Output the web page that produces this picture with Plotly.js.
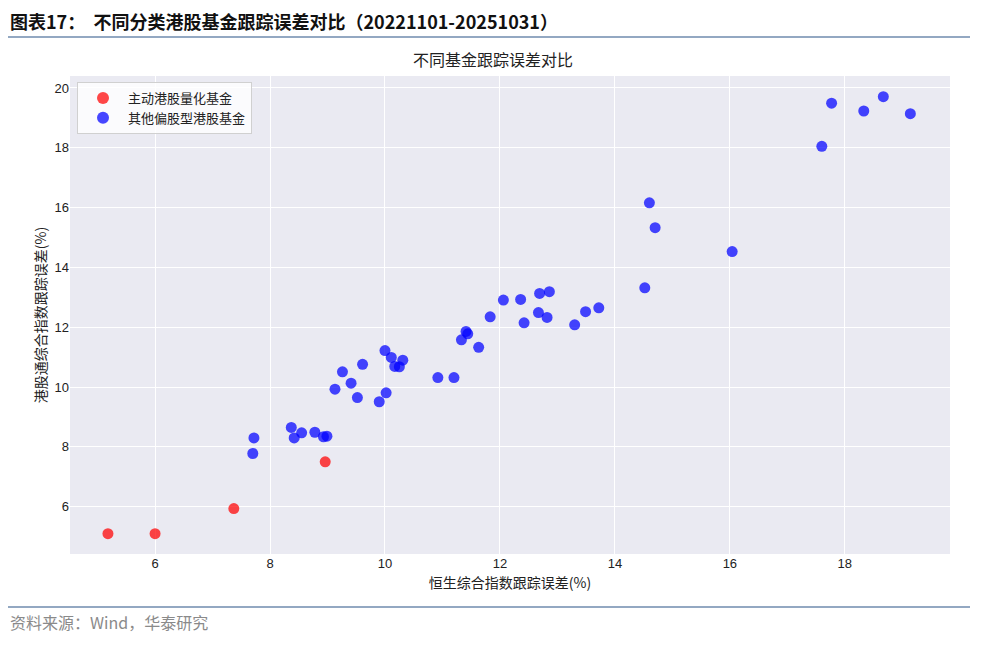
<!DOCTYPE html>
<html>
<head>
<meta charset="utf-8">
<script src="https://cdn.plot.ly/plotly-3.0.1.min.js"></script>
<style>
html,body{margin:0;padding:0;background:#fff;}
#chart{width:986px;height:653px;}
</style>
</head>
<body>
<div id="chart"></div>
<script>
// Data
const quantNames = "主动港股量化基金";
const otherNames = "其他偏股型港股基金";

const quantX = [5.18, 6.00, 7.37, 8.96];
const quantY = [5.10, 5.10, 5.94, 7.50];

const otherX = [7.72, 7.70, 8.37, 8.42, 8.55, 8.78, 8.93, 8.99,
  10.00, 10.11, 10.31, 10.17, 10.25, 9.61, 9.26, 9.41, 9.13, 9.52, 10.02, 9.90,
  10.92, 11.20, 11.33, 11.41, 11.44, 11.63, 11.83, 12.06, 12.36, 12.42, 12.69, 12.86, 12.67, 12.82, 13.30, 13.49, 13.72,
  14.60, 14.70, 14.52, 16.04, 17.60, 17.77, 18.33, 18.67, 19.14];
const otherY = [8.30, 7.78, 8.65, 8.30, 8.47, 8.49, 8.34, 8.36,
  11.22, 10.99, 10.90, 10.69, 10.68, 10.76, 10.51, 10.13, 9.93, 9.65, 9.81, 9.51,
  10.32, 10.32, 11.58, 11.86, 11.78, 11.33, 12.35, 12.91, 12.93, 12.15, 13.13, 13.19, 12.49, 12.33, 12.08, 12.52, 12.65,
  16.16, 15.33, 13.32, 14.53, 18.05, 19.49, 19.23, 19.71, 19.14];

const xTicks = [6, 8, 10, 12, 14, 16, 18];
const yTicks = [6, 8, 10, 12, 14, 16, 18, 20];

const headerText = "图表17：  不同分类港股基金跟踪误差对比（20221101-20251031）";
const chartTitle = "不同基金跟踪误差对比";
const xTitle = "恒生综合指数跟踪误差(%)";
const yTitle = "港股通综合指数跟踪误差(%)";
const sourceText = "资料来源：Wind，华泰研究";

const cjk = "'Noto Sans CJK SC', 'Noto Sans', sans-serif";
const num = "'Liberation Sans Narrow', 'Liberation Sans', Arial, sans-serif";

// plot area in pixels: left 70, right 950, top 76, bottom 554
const L = 70, R = 950, T = 76, B = 554;
const px = x => (x - L) / (R - L);
const py = y => (B - y) / (B - T);

const traces = [
  {x: quantX, y: quantY, name: quantNames, type: 'scatter', mode: 'markers',
   marker: {color: 'rgb(255,0,0)', size: 11, opacity: 0.72}},
  {x: otherX, y: otherY, name: otherNames, type: 'scatter', mode: 'markers',
   marker: {color: 'rgb(0,0,255)', size: 11, opacity: 0.72}}
];

const layout = {
  width: 986, height: 653,
  margin: {l: L, r: 986 - R, t: T, b: 653 - B, pad: 0},
  paper_bgcolor: '#ffffff',
  plot_bgcolor: '#EAEAF2',
  showlegend: true,
  legend: {x: px(77), y: py(82), xanchor: 'left', yanchor: 'top',
    bgcolor: 'rgba(255,255,255,0.8)', bordercolor: '#d0d0d0', borderwidth: 1,
    font: {family: cjk, size: 13, color: '#222'}, itemsizing: 'constant',
    itemwidth: 40, tracegroupgap: 0},
  title: {text: chartTitle, x: px(510), xanchor: 'center', y: 1 - 60/653, yanchor: 'middle',
    font: {family: cjk, size: 16, color: '#222'}},
  xaxis: {range: [4.52, 19.83], tickvals: xTicks, ticktext: xTicks.map(String),
    showgrid: true, gridcolor: '#ffffff', gridwidth: 1, zeroline: false, showline: false,
    ticks: '', tickfont: {family: num, size: 13, color: '#222'},
    title: {text: xTitle, font: {family: cjk, size: 14, color: '#222'}, standoff: 8}},
  yaxis: {range: [4.42, 20.40], tickvals: yTicks, ticktext: yTicks.map(String),
    showgrid: true, gridcolor: '#ffffff', gridwidth: 1, zeroline: false, showline: false,
    ticks: '', tickfont: {family: num, size: 13, color: '#222'},
    title: {text: yTitle, font: {family: cjk, size: 14, color: '#222'}, standoff: 4}},
  shapes: [
    {type: 'line', xref: 'paper', yref: 'paper', x0: px(8), x1: px(970), y0: py(37), y1: py(37),
     line: {color: '#93A8C2', width: 2}},
    {type: 'line', xref: 'paper', yref: 'paper', x0: px(8), x1: px(970), y0: py(607), y1: py(607),
     line: {color: '#93A8C2', width: 2}}
  ],
  annotations: [
    {text: '<b>' + headerText + '</b>', xref: 'paper', yref: 'paper', x: px(8), y: py(21),
     xanchor: 'left', yanchor: 'middle', showarrow: false,
     font: {family: cjk, size: 18, color: '#111'}},
    {text: sourceText, xref: 'paper', yref: 'paper', x: px(8), y: py(622),
     xanchor: 'left', yanchor: 'middle', showarrow: false,
     font: {family: cjk, size: 16, color: '#8a8a8a'}}
  ]
};

Plotly.newPlot('chart', traces, layout, {displayModeBar: false, staticPlot: true});
</script>
</body>
</html>
